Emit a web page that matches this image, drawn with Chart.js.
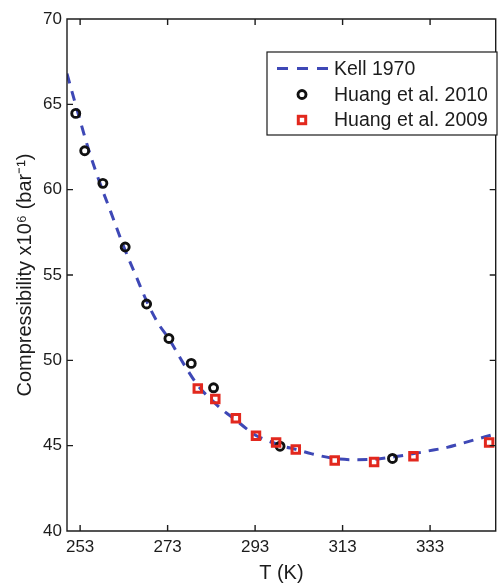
<!DOCTYPE html>
<html>
<head>
<meta charset="utf-8">
<script src="https://cdn.jsdelivr.net/npm/chart.js@4.4.0/dist/chart.umd.min.js"></script>
<style>
html, body { margin: 0; padding: 0; background: #fff; overflow: hidden; }
canvas { display: block; }
</style>
</head>
<body>
<canvas id="chart" width="504" height="585"></canvas>
<script>
// tick labels
const xTicks = [253, 273, 293, 313, 333];
const yTicks = [40, 45, 50, 55, 60, 65, 70];

// series names
const seriesNames = ['Kell 1970', 'Huang et al. 2010', 'Huang et al. 2009'];

// Kell 1970 curve
const kellT = [250, 252.5, 255, 257.5, 260, 263, 266, 268.5, 271, 273.2, 276.6, 280, 284, 286, 288.6, 291,
               293.2, 296, 299, 302.3, 306, 311, 315, 320, 324.4, 329, 332.4, 336.9, 340.2, 345.6, 348];
const kellK = [66.8, 64.5, 62.3, 60.4, 58.7, 56.64, 54.8, 53.3, 52.1, 51.3, 49.82, 48.5, 47.45, 47.0, 46.5, 46.0,
               45.6, 45.28, 45.0, 44.78, 44.52, 44.25, 44.18, 44.2, 44.33, 44.52, 44.68, 44.9, 45.13, 45.52, 45.7];

// Huang et al. 2010
const huang2010T = [252.0, 254.05, 258.2, 263.3, 268.2, 273.3, 278.4, 283.5, 298.7, 324.4];
const huang2010K = [64.47, 62.28, 60.37, 56.64, 53.3, 51.28, 49.82, 48.39, 44.97, 44.25];

// Huang et al. 2009
const huang2009T = [279.9, 283.9, 288.6, 293.2, 297.8, 302.3, 311.2, 320.2, 329.2, 346.5];
const huang2009K = [48.35, 47.73, 46.6, 45.58, 45.19, 44.78, 44.13, 44.05, 44.38, 45.19];

const blue = 'rgb(62, 72, 182)';
const red = 'rgb(226, 40, 30)';
const ink = '#1c1c1c';
const fontFamily = '"Liberation Sans", Arial, Helvetica, sans-serif';

function pairs(xs, ys) {
    return xs.map((x, i) => ({ x: x, y: ys[i] }));
}

// box round the plot with inward ticks, MATLAB style
const frameTicks = {
    id: 'frameTicks',
    afterDatasetsDraw(chart) {
        const { ctx, chartArea: a, scales: { x, y } } = chart;
        const len = 6;
        ctx.save();
        ctx.strokeStyle = ink;
        ctx.lineWidth = 1.4;
        ctx.beginPath();
        ctx.rect(a.left, a.top, a.right - a.left, a.bottom - a.top);
        x.ticks.forEach(t => {
            const px = x.getPixelForValue(t.value);
            ctx.moveTo(px, a.bottom); ctx.lineTo(px, a.bottom - len);
            ctx.moveTo(px, a.top); ctx.lineTo(px, a.top + len);
        });
        y.ticks.forEach(t => {
            const py = y.getPixelForValue(t.value);
            ctx.moveTo(a.left, py); ctx.lineTo(a.left + len, py);
            ctx.moveTo(a.right, py); ctx.lineTo(a.right - len, py);
        });
        ctx.stroke();
        ctx.restore();
    }
};

// legend box inside the plot
const boxLegend = {
    id: 'boxLegend',
    afterDraw(chart) {
        const { ctx } = chart;
        const left = 267, top = 52, w = 230, h = 83;
        const rows = [68.5, 94.5, 120];
        const symX = 302, textX = 334;
        ctx.save();
        ctx.fillStyle = '#fff';
        ctx.fillRect(left, top, w, h);
        ctx.strokeStyle = ink;
        ctx.lineWidth = 1.2;
        ctx.strokeRect(left, top, w, h);

        ctx.strokeStyle = blue;
        ctx.lineWidth = 3;
        ctx.setLineDash([11, 9]);
        ctx.beginPath();
        ctx.moveTo(277, rows[0]); ctx.lineTo(328, rows[0]);
        ctx.stroke();
        ctx.setLineDash([]);

        ctx.strokeStyle = '#111';
        ctx.lineWidth = 2.9;
        ctx.beginPath();
        ctx.arc(symX, rows[1], 4, 0, Math.PI * 2);
        ctx.stroke();

        ctx.strokeStyle = red;
        ctx.lineWidth = 3;
        ctx.strokeRect(symX - 3.7, rows[2] - 3.7, 7.4, 7.4);

        ctx.fillStyle = ink;
        ctx.font = '19.5px ' + fontFamily;
        ctx.textBaseline = 'middle';
        seriesNames.forEach((s, i) => ctx.fillText(s, textX, rows[i] + 1));
        ctx.restore();
    }
};

new Chart(document.getElementById('chart'), {
    type: 'scatter',
    data: {
        datasets: [{
            label: seriesNames[0],
            data: pairs(kellT, kellK),
            showLine: true,
            borderColor: blue,
            borderWidth: 3,
            borderDash: [10, 8],
            pointRadius: 0,
            cubicInterpolationMode: 'monotone',
            order: 3
        }, {
            label: seriesNames[1],
            data: pairs(huang2010T, huang2010K),
            pointStyle: 'circle',
            pointRadius: 4,
            borderWidth: 2.9,
            borderColor: '#111',
            backgroundColor: 'rgba(0,0,0,0)',
            order: 2
        }, {
            label: seriesNames[2],
            data: pairs(huang2009T, huang2009K),
            pointStyle: 'rect',
            pointRadius: 5.3,
            borderWidth: 3,
            borderColor: red,
            backgroundColor: 'rgba(0,0,0,0)',
            order: 1
        }]
    },
    options: {
        responsive: false,
        animation: false,
        devicePixelRatio: 1,
        layout: { padding: { top: 19, right: 1, left: 0, bottom: 0 } },
        plugins: {
            legend: { display: false },
            tooltip: { enabled: false }
        },
        scales: {
            x: {
                type: 'linear',
                min: 250,
                max: 348,
                afterBuildTicks: scale => { scale.ticks = xTicks.map(v => ({ value: v })); },
                afterFit: scale => { scale.height = 54; },
                grid: { display: false, drawTicks: false },
                border: { display: false },
                ticks: {
                    color: ink,
                    padding: 6,
                    font: { family: fontFamily, size: 17 }
                },
                title: {
                    display: true,
                    text: 'T (K)',
                    color: ink,
                    padding: 0,
                    font: { family: fontFamily, size: 20 }
                }
            },
            y: {
                type: 'linear',
                min: 40,
                max: 70,
                afterBuildTicks: scale => { scale.ticks = yTicks.map(v => ({ value: v })); },
                afterFit: scale => { scale.width = 67; },
                grid: { display: false, drawTicks: false },
                border: { display: false },
                ticks: {
                    color: ink,
                    padding: 5,
                    font: { family: fontFamily, size: 17 }
                },
                title: {
                    display: true,
                    text: 'Compressibility x10\u2076 (bar\u207B\u00B9)',
                    color: ink,
                    padding: { top: 13, bottom: 0 },
                    font: { family: fontFamily, size: 20 }
                }
            }
        }
    },
    plugins: [frameTicks, boxLegend]
});
</script>
</body>
</html>
